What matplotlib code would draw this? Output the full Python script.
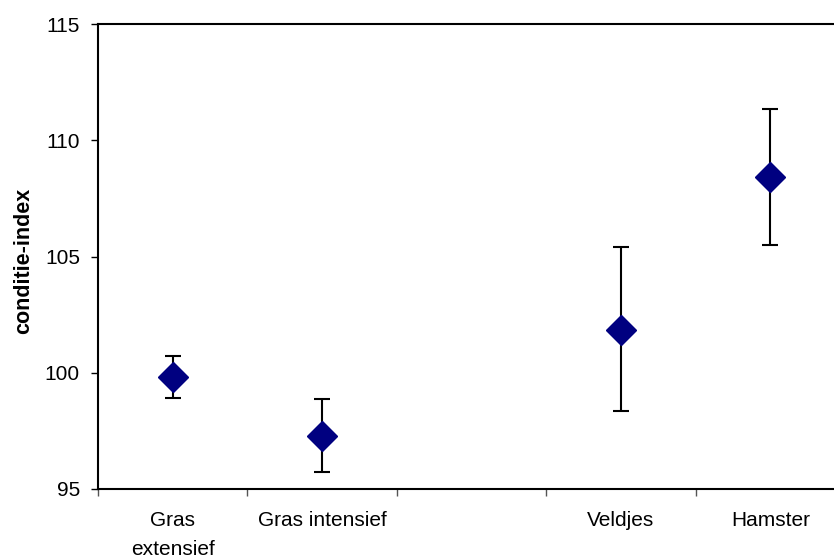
import matplotlib.pyplot as plt

plt.rcParams['font.family'] = ['Liberation Sans', 'DejaVu Sans']

# data
categories = ['Gras\nextensief', 'Gras intensief', 'Veldjes', 'Hamster']
slots = [0, 1, 3, 4]  # slot 2 is left empty in the original
mean_vals = [99.8, 97.3, 101.85, 108.4]
upper_vals = [100.7, 98.85, 105.4, 111.35]
lower_vals = [98.9, 95.75, 98.35, 105.5]

err_lo = [m - l for m, l in zip(mean_vals, lower_vals)]
err_hi = [u - m for m, u in zip(mean_vals, upper_vals)]

fig = plt.figure(figsize=(8.34, 5.59), dpi=100)
ax = fig.add_axes([98 / 834, 1 - 489 / 559, (845 - 98) / 834, (489 - 24) / 559])

ax.errorbar(slots, mean_vals, yerr=[err_lo, err_hi], fmt='D', color='#000080',
            markersize=15.5, ecolor='black', elinewidth=1.5, capsize=6, capthick=1.5)

ax.set_xlim(-0.5, 4.5)
ax.set_ylim(95, 115)
ax.set_yticks([95, 100, 105, 110, 115])
ax.set_xticks(slots)
ax.set_xticklabels(categories, linespacing=1.65)
ax.set_xticks([-0.5, 0.5, 1.5, 2.5, 3.5, 4.5], minor=True)
ax.tick_params(axis='x', which='major', length=0, pad=16, labelsize=15)
ax.tick_params(axis='x', which='minor', length=5, width=1, color='#555555')
ax.tick_params(axis='y', length=5, width=1, pad=8, labelsize=15)
ax.set_ylabel('conditie-index', fontsize=15.5, fontweight='bold')
ax.yaxis.set_label_coords(-0.086, 0.49)

for sp in ax.spines.values():
    sp.set_linewidth(1.5)

plt.savefig('out.png', dpi=100)
